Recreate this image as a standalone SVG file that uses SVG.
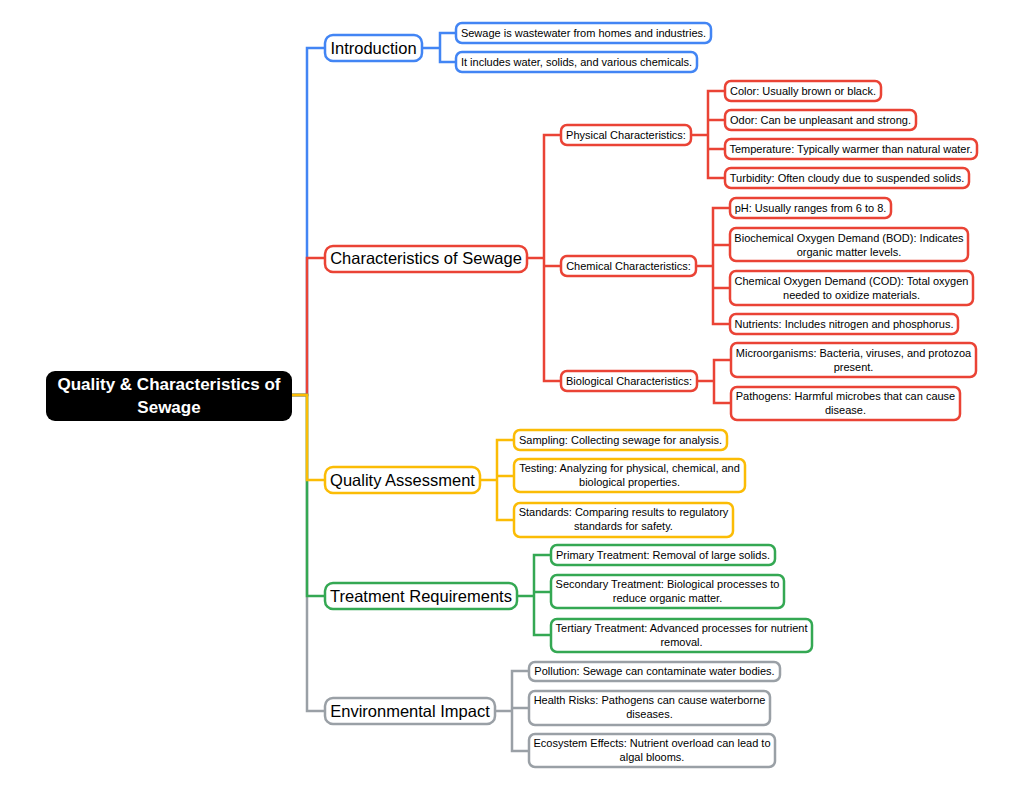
<svg xmlns="http://www.w3.org/2000/svg" width="1024" height="792" viewBox="0 0 1024 792">
<style>
.c{fill:none;stroke-width:2.5;stroke-linejoin:miter;stroke-linecap:butt}
.n{fill:#fff;stroke-width:2.5}
.t{font-family:"Liberation Sans",Arial,sans-serif;font-size:11px;fill:#000;text-anchor:middle}
.t1{font-family:"Liberation Sans",Arial,sans-serif;font-size:16.5px;fill:#000;text-anchor:middle}
.b{stroke:#4285F4}.r{stroke:#EA4335}.y{stroke:#FBBC05}.g{stroke:#34A853}.k{stroke:#9AA0A6}
</style>
<rect width="1024" height="792" fill="#fff"/>
<g id="connectors">
<path class="c b" d="M292,395 H307 V48 H325"/>
<path class="c r" d="M292,395 H307 V258 H325"/>
<path class="c k" d="M292,395 H307 V711 H325"/>
<path class="c g" d="M292,395 H307 V596 H325"/>
<path class="c y" d="M292,395 H307 V480 H325"/>
<path class="c b" d="M422,48 H440 M440,48 V33 H456 M440,48 V62 H456"/>
<path class="c r" d="M527,258 H544 M544,258 V135 H561 M544,258 V266 H561 M544,258 V381 H561"/>
<path class="c r" d="M691,135 H708 M708,135 V91 H725 M708,135 V120 H725 M708,135 V149 H725 M708,135 V178 H725"/>
<path class="c r" d="M696,266 H713 M713,266 V208 H730 M713,266 V245 H730 M713,266 V288 H730 M713,266 V324 H730"/>
<path class="c r" d="M697,381 H714 M714,381 V360 H731 M714,381 V403 H731"/>
<path class="c y" d="M480,480 H497 M497,480 V440 H514 M497,480 V476 H514 M497,480 V520 H514"/>
<path class="c g" d="M517,596 H534 M534,596 V555 H551 M534,596 V592 H551 M534,596 V635 H551"/>
<path class="c k" d="M495,711 H512 M512,711 V671 H529 M512,711 V708 H529 M512,711 V751 H529"/>
</g>
<g id="root">
<rect x="46" y="371" width="246" height="50" rx="9" fill="#000"/>
<text x="169" y="390" font-family="Liberation Sans,Arial,sans-serif" font-size="17" font-weight="bold" fill="#fff" text-anchor="middle">Quality &amp; Characteristics of</text>
<text x="169" y="413" font-family="Liberation Sans,Arial,sans-serif" font-size="17" font-weight="bold" fill="#fff" text-anchor="middle">Sewage</text>
</g>
<g id="introduction">
<rect class="n b" x="325" y="35" width="97" height="26" rx="8"/>
<text class="t1" x="373.5" y="54">Introduction</text>
</g>
<g id="intro-1"><rect class="n b" x="456" y="23" width="255" height="20" rx="6"/><text class="t" x="583.5" y="37">Sewage is wastewater from homes and industries.</text></g>
<g id="intro-2"><rect class="n b" x="456" y="52" width="241" height="20" rx="6"/><text class="t" x="576.5" y="66">It includes water, solids, and various chemicals.</text></g>
<g id="characteristics">
<rect class="n r" x="325" y="246" width="202" height="26" rx="8"/>
<text class="t1" x="426" y="264">Characteristics of Sewage</text>
</g>
<g id="physical"><rect class="n r" x="561" y="125" width="130" height="20" rx="6"/><text class="t" x="626" y="139">Physical Characteristics:</text></g>
<g id="color"><rect class="n r" x="725" y="81" width="156" height="20" rx="6"/><text class="t" x="803" y="95">Color: Usually brown or black.</text></g>
<g id="odor"><rect class="n r" x="725" y="110" width="191" height="20" rx="6"/><text class="t" x="820.5" y="124">Odor: Can be unpleasant and strong.</text></g>
<g id="temperature"><rect class="n r" x="725" y="139" width="252" height="20" rx="6"/><text class="t" x="851" y="153">Temperature: Typically warmer than natural water.</text></g>
<g id="turbidity"><rect class="n r" x="725" y="168" width="244" height="20" rx="6"/><text class="t" x="847" y="182">Turbidity: Often cloudy due to suspended solids.</text></g>
<g id="chemical"><rect class="n r" x="561" y="256" width="135" height="20" rx="6"/><text class="t" x="628.5" y="270">Chemical Characteristics:</text></g>
<g id="ph"><rect class="n r" x="730" y="198" width="161" height="20" rx="6"/><text class="t" x="810.5" y="212">pH: Usually ranges from 6 to 8.</text></g>
<g id="bod"><rect class="n r" x="730" y="228" width="238" height="33" rx="6"/><text class="t" x="849" y="242">Biochemical Oxygen Demand (BOD): Indicates</text><text class="t" x="849" y="256">organic matter levels.</text></g>
<g id="cod"><rect class="n r" x="730" y="271" width="243" height="34" rx="6"/><text class="t" x="851.5" y="285">Chemical Oxygen Demand (COD): Total oxygen</text><text class="t" x="851.5" y="299">needed to oxidize materials.</text></g>
<g id="nutrients"><rect class="n r" x="730" y="314" width="228" height="20" rx="6"/><text class="t" x="844" y="328">Nutrients: Includes nitrogen and phosphorus.</text></g>
<g id="biological"><rect class="n r" x="561" y="371" width="136" height="20" rx="6"/><text class="t" x="629" y="385">Biological Characteristics:</text></g>
<g id="microorganisms"><rect class="n r" x="731" y="343" width="245" height="34" rx="6"/><text class="t" x="853.5" y="357">Microorganisms: Bacteria, viruses, and protozoa</text><text class="t" x="853.5" y="371">present.</text></g>
<g id="pathogens"><rect class="n r" x="731" y="387" width="229" height="33" rx="6"/><text class="t" x="845.5" y="400">Pathogens: Harmful microbes that can cause</text><text class="t" x="845.5" y="414">disease.</text></g>
<g id="quality">
<rect class="n y" x="325" y="467" width="155" height="26" rx="8"/>
<text class="t1" x="402.5" y="486">Quality Assessment</text>
</g>
<g id="sampling"><rect class="n y" x="514" y="430" width="213" height="20" rx="6"/><text class="t" x="620.5" y="444">Sampling: Collecting sewage for analysis.</text></g>
<g id="testing"><rect class="n y" x="514" y="459" width="231" height="33" rx="6"/><text class="t" x="629.5" y="472">Testing: Analyzing for physical, chemical, and</text><text class="t" x="629.5" y="486">biological properties.</text></g>
<g id="standards"><rect class="n y" x="514" y="503" width="219" height="34" rx="6"/><text class="t" x="623.5" y="516">Standards: Comparing results to regulatory</text><text class="t" x="623.5" y="530">standards for safety.</text></g>
<g id="treatment">
<rect class="n g" x="325" y="583" width="192" height="26" rx="8"/>
<text class="t1" x="421" y="602">Treatment Requirements</text>
</g>
<g id="primary"><rect class="n g" x="551" y="545" width="224" height="20" rx="6"/><text class="t" x="663" y="559">Primary Treatment: Removal of large solids.</text></g>
<g id="secondary"><rect class="n g" x="551" y="575" width="233" height="33" rx="6"/><text class="t" x="667.5" y="588">Secondary Treatment: Biological processes to</text><text class="t" x="667.5" y="602">reduce organic matter.</text></g>
<g id="tertiary"><rect class="n g" x="551" y="619" width="261" height="33" rx="6"/><text class="t" x="681.5" y="632">Tertiary Treatment: Advanced processes for nutrient</text><text class="t" x="681.5" y="646">removal.</text></g>
<g id="environmental">
<rect class="n k" x="325" y="698" width="170" height="26" rx="8"/>
<text class="t1" x="410" y="717">Environmental Impact</text>
</g>
<g id="pollution"><rect class="n k" x="529" y="662" width="251" height="19" rx="6"/><text class="t" x="654.5" y="675">Pollution: Sewage can contaminate water bodies.</text></g>
<g id="health"><rect class="n k" x="529" y="691" width="241" height="34" rx="6"/><text class="t" x="649.5" y="704">Health Risks: Pathogens can cause waterborne</text><text class="t" x="649.5" y="718">diseases.</text></g>
<g id="ecosystem"><rect class="n k" x="529" y="734" width="246" height="33" rx="6"/><text class="t" x="652" y="747">Ecosystem Effects: Nutrient overload can lead to</text><text class="t" x="652" y="761">algal blooms.</text></g>
</svg>
